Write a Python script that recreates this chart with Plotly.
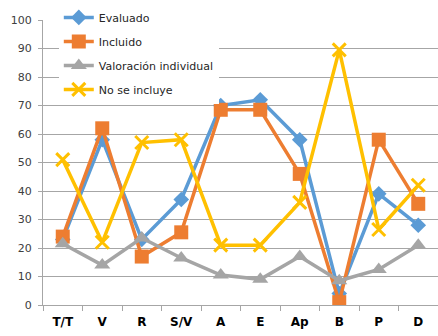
import plotly.graph_objects as go

categories = ["T/T", "V", "R", "S/V", "A", "E", "Ap", "B", "P", "D"]
evaluado = [23, 58, 23, 37, 70, 72, 58, 4, 39, 28]
incluido = [24, 62, 17, 25.5, 68.5, 68.5, 46, 1, 58, 35.5]
valoracion = [21.5, 14, 23.5, 16.5, 10.5, 9, 17, 8.5, 12.5, 21]
no_incluye = [51, 22, 57, 58, 21, 21, 36, 89.5, 26.5, 42]

series = [
    ("Evaluado", evaluado, "#5B9BD5", "diamond", 12),
    ("Incluido", incluido, "#ED7D31", "square", 14),
    ("Valoración individual", valoracion, "#A5A5A5", "triangle-up", 14),
    ("No se incluye", no_incluye, "#FFC000", "x-thin", 13),
]

fig = go.Figure()
for i, (name, vals, color, symbol, size) in enumerate(series):
    fig.add_trace(go.Scatter(
        x=categories, y=vals, name=name, mode="lines+markers",
        legendgroup=f"g{i}",
        line=dict(color=color, width=3.5),
        marker=dict(symbol=symbol, size=size, color=color,
                    line=dict(color=color, width=3 if symbol == "x-thin" else 0)),
    ))

fig.update_layout(
    width=438, height=336,
    margin=dict(l=43, r=0, t=20, b=31),
    paper_bgcolor="white", plot_bgcolor="white",
    font=dict(family="DejaVu Sans", size=11, color="#404040"),
    showlegend=True,
    legend=dict(
        x=0.04, y=1.06, xanchor="left", yanchor="top",
        bgcolor="white", tracegroupgap=5,
        font=dict(family="DejaVu Sans", size=11, color="#262626"),
        itemwidth=30,
    ),
    xaxis=dict(
        type="category", tickson="boundaries", ticks="outside", ticklen=5,
        tickcolor="#a6a6a6", showline=True, linecolor="#a6a6a6", linewidth=1,
        showgrid=False, ticklabelstandoff=6,
        tickfont=dict(family="DejaVu Sans", size=12, color="#000000", weight="bold"),
        range=[-0.5, 9.5],
    ),
    yaxis=dict(
        range=[0, 100], dtick=10, ticks="outside", ticklen=4, tickcolor="#a6a6a6",
        showline=True, linecolor="#a6a6a6", linewidth=1, ticklabelstandoff=4,
        showgrid=True, gridcolor="#a6a6a6", gridwidth=1, zeroline=False,
        tickfont=dict(family="DejaVu Sans", size=11, color="#404040"),
    ),
)

fig.write_html("out.html")
